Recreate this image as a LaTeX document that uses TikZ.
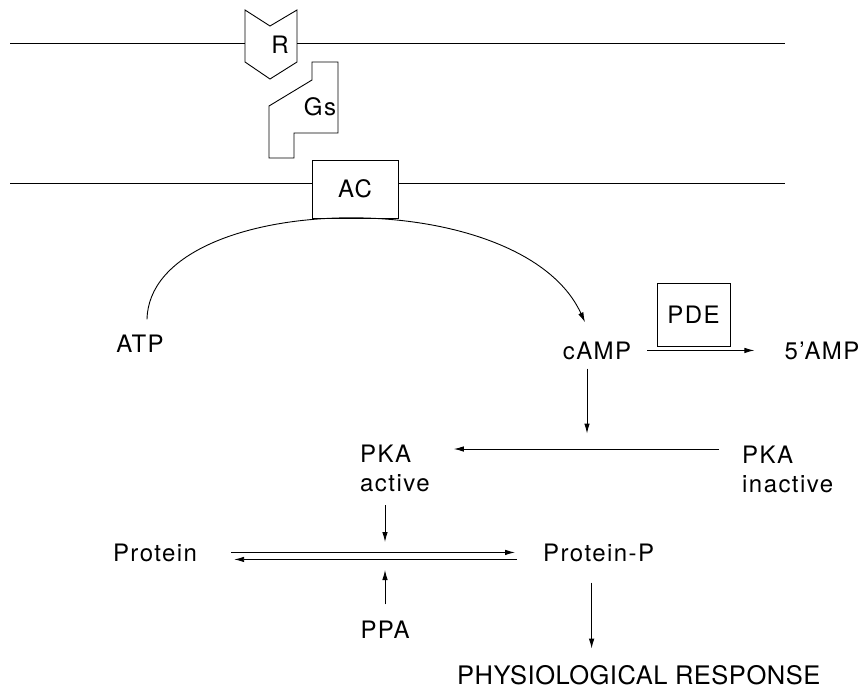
\documentclass[tikz,border=0pt]{standalone}
\usepackage{fontspec}
\setmainfont[LetterSpace=6]{TeX Gyre Heros}
\usetikzlibrary{arrows.meta}

\begin{document}
\begin{tikzpicture}[x=1pt,y=-1pt,
  lbl/.style={anchor=base, inner sep=0pt, font=\fontsize{24}{29}\selectfont},
  blk/.style={anchor=north west, inner sep=0pt, align=left, font=\fontsize{24}{29}\selectfont},
  arr/.style={-{Latex[length=10pt,width=5.5pt]}, line width=0.9pt},
  mem/.style={line width=0.9pt}]
\useasboundingbox (0,0) rectangle (861,689);
% membranes and receptor complex
\coordinate (tL) at (10,43);
\coordinate (tR) at (785,43);
\coordinate (mL) at (10,183);
\coordinate (mR) at (785,183);
\draw[mem] (tL) -- (245,43);
\draw[mem] (297,43) -- (tR);
\draw[mem] (245,10) -- (270,26) -- (297,10) -- (297,62) -- (270,79) -- (245,62) -- cycle;
\node[lbl] (r) at (280,53) {R};
\draw[mem] (312,62) -- (338,62) -- (338,133) -- (294,133) -- (294,158) -- (269,158) -- (269,106) -- (312,80) -- cycle;
\node[lbl] (gs) at (320,115) {Gs};
\node[lbl, anchor=center, draw, line width=0.9pt, minimum width=86pt, minimum height=58pt] (ac) at (355,189) {AC};
\draw[mem] (mL) -- (mL -| ac.west);
\draw[mem] (ac.east |- mR) -- (mR);
% cAMP
\node[lbl] (atp) at (140,352) {ATP};
\node[lbl] (camp) at (597,359) {cAMP};
\node[lbl] (amp) at (822,359) {5'AMP};
\node[lbl, anchor=center, draw, line width=0.9pt, minimum width=73pt, minimum height=63pt] (pde) at (693.5,314.5) {PDE};
\draw[arr] ([xshift=7pt,yshift=15pt]atp.north) .. controls (150,190) and (520,180) .. ([xshift=-12pt,yshift=19pt]camp.north);
\draw[arr] ([xshift=16pt]camp.east) -- ([xshift=-30pt]amp.west);
% kinase
\node[blk] (pkaa) at (360,445) {PKA\\active};
\node[blk] (pkai) at (742,446) {PKA\\inactive};
\draw[arr] ([xshift=-10pt,yshift=-9pt]camp.south) -- ++(0,65);
\draw[arr] ([xshift=-23pt,yshift=-3pt]pkai.north west) -- ([xshift=24pt,yshift=-4pt]pkaa.north east);
% phosphorylation
\node[lbl] (prot) at (155,561) {Protein};
\node[lbl, anchor=base west] (protp) at (543,561) {Protein-P};
\node[lbl] (ppa) at (385,638) {PPA};
\node[lbl, anchor=base west, font=\fontsize{25.5}{30}\selectfont\addfontfeature{LetterSpace=2}] (resp) at (457,684) {PHYSIOLOGICAL RESPONSE};
\coordinate (cat) at (385,555);
\draw[arr] ([xshift=34pt]prot.east) -- ([xshift=-28pt]protp.west);
\draw[arr] ([xshift=-26pt,yshift=-7pt]protp.west) -- ([xshift=37pt,yshift=-7pt]prot.east);
\draw[arr, shorten <=13pt, shorten >=13pt] (pkaa.south -| cat) -- (cat);
\draw[arr, shorten <=16pt, shorten >=15pt] (ppa.north) -- (cat);
\draw[arr] ([xshift=-7pt,yshift=-21pt]protp.south) -- ++(0,66);
\end{tikzpicture}
\end{document}
